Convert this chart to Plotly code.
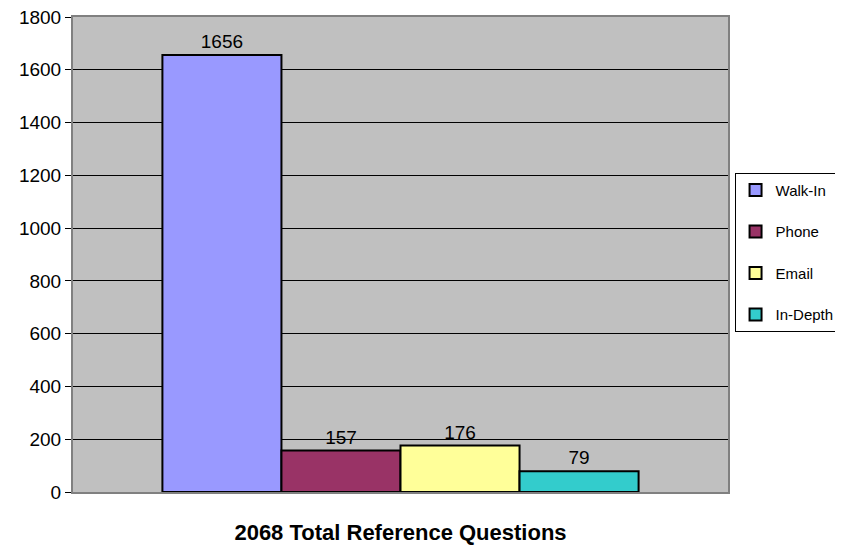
import plotly.graph_objects as go

category = "2068 Total Reference Questions"
series_names = ["Walk-In", "Phone", "Email", "In-Depth"]
series_values = [1656, 157, 176, 79]
series_colors = ["#9999FF", "#993366", "#FFFF99", "#33CCCC"]
y_ticks = [0, 200, 400, 600, 800, 1000, 1200, 1400, 1600, 1800]

FONT = "Liberation Sans, Arial, sans-serif"

fig = go.Figure()
for name, val, col in zip(series_names, series_values, series_colors):
    fig.add_trace(go.Bar(
        x=[category], y=[val], name=name,
        marker=dict(color=col, line=dict(color="black", width=2)),
        text=[str(val)], textposition="outside",
        textfont=dict(family=FONT, size=19, color="black"),
        cliponaxis=False, legendgroup=name,
    ))

fig.update_layout(
    width=843, height=550,
    margin=dict(l=65, r=123, t=9, b=66, autoexpand=False),
    paper_bgcolor="white", plot_bgcolor="#C0C0C0",
    barmode="group", bargap=0.273, bargroupgap=0,
    font=dict(family=FONT, size=19, color="black"),
    showlegend=True,
    legend=dict(
        x=1.01, y=0.672, xanchor="left", yanchor="top",
        bordercolor="black", borderwidth=1, bgcolor="white",
        font=dict(family=FONT, size=15, color="black"),
        traceorder="grouped", tracegroupgap=19,
        itemwidth=30,
    ),
    xaxis=dict(
        showticklabels=False, ticks="",
        title=dict(text="<b>" + category + "</b>", standoff=32,
                   font=dict(family=FONT, size=22, color="black")),
        showline=True, linecolor="#808080", linewidth=2, mirror=True,
    ),
    yaxis=dict(
        range=[0, 1800], tickvals=y_ticks,
        ticks="outside", ticklen=6, tickcolor="black",
        ticklabeloverflow="allow",
        showgrid=True, gridcolor="black", gridwidth=1,
        showline=True, linecolor="#808080", linewidth=2, mirror=True,
        zeroline=False,
        tickfont=dict(family=FONT, size=19, color="black"),
    ),
)

fig.write_html("out.html")
